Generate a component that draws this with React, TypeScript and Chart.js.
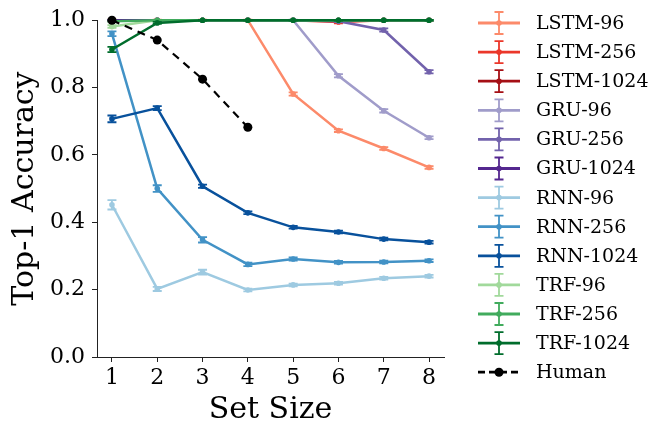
import React, { useEffect, useRef } from "react";
import { Chart, registerables } from "chart.js";

Chart.register(...registerables);

const setSizes = [1, 2, 3, 4, 5, 6, 7, 8];
const humanSetSizes = [1, 2, 3, 4];

const seriesLabels = [
  "LSTM-96", "LSTM-256", "LSTM-1024",
  "GRU-96", "GRU-256", "GRU-1024",
  "RNN-96", "RNN-256", "RNN-1024",
  "TRF-96", "TRF-256", "TRF-1024",
];

const lstm96 = [1, 1, 1, 1, 0.781, 0.672, 0.619, 0.563];
const lstm256 = [1, 1, 1, 1, 1, 0.995, 1, 1];
const lstm1024 = [1, 1, 1, 1, 1, 1, 1, 1];
const gru96 = [1, 1, 1, 1, 1, 0.835, 0.731, 0.651];
const gru256 = [1, 1, 1, 1, 1, 0.997, 0.971, 0.847];
const gru1024 = [1, 1, 1, 1, 1, 1, 1, 1];
const rnn96 = [0.452, 0.202, 0.252, 0.199, 0.214, 0.219, 0.234, 0.240];
const rnn256 = [0.96, 0.5, 0.348, 0.275, 0.291, 0.281, 0.282, 0.286];
const rnn1024 = [0.707, 0.739, 0.507, 0.428, 0.385, 0.371, 0.35, 0.341];
const trf96 = [0.981, 1, 1, 1, 1, 1, 1, 1];
const trf256 = [0.997, 1, 1, 1, 1, 1, 1, 1];
const trf1024 = [0.913, 0.992, 1, 1, 1, 1, 1, 1];
const human = [1.0, 0.941, 0.825, 0.682];

const lstm96Err = [0.002, 0.002, 0.002, 0.002, 0.005, 0.004, 0.004, 0.004];
const lstm256Err = [0.001, 0.001, 0.001, 0.001, 0.001, 0.004, 0.001, 0.001];
const lstm1024Err = [0.001, 0.001, 0.001, 0.001, 0.001, 0.001, 0.001, 0.001];
const gru96Err = [0.001, 0.001, 0.001, 0.001, 0.002, 0.005, 0.005, 0.004];
const gru256Err = [0.001, 0.001, 0.001, 0.001, 0.001, 0.003, 0.005, 0.005];
const gru1024Err = [0.001, 0.001, 0.001, 0.001, 0.001, 0.001, 0.001, 0.001];
const rnn96Err = [0.014, 0.006, 0.007, 0.004, 0.004, 0.004, 0.004, 0.004];
const rnn256Err = [0.007, 0.01, 0.008, 0.005, 0.005, 0.004, 0.004, 0.004];
const rnn1024Err = [0.01, 0.006, 0.005, 0.004, 0.004, 0.004, 0.004, 0.004];
const trf96Err = [0.004, 0.001, 0.001, 0.001, 0.001, 0.001, 0.001, 0.001];
const trf256Err = [0.002, 0.001, 0.001, 0.001, 0.001, 0.001, 0.001, 0.001];
const trf1024Err = [0.008, 0.003, 0.001, 0.001, 0.001, 0.001, 0.001, 0.001];

const seriesValues = [
  lstm96, lstm256, lstm1024,
  gru96, gru256, gru1024,
  rnn96, rnn256, rnn1024,
  trf96, trf256, trf1024,
];
const seriesErrors = [
  lstm96Err, lstm256Err, lstm1024Err,
  gru96Err, gru256Err, gru1024Err,
  rnn96Err, rnn256Err, rnn1024Err,
  trf96Err, trf256Err, trf1024Err,
];
const seriesColors = [
  "#fc8a6a", "#eb372a", "#a50f15",
  "#a09cca", "#7262ac", "#54278f",
  "#9ecae1", "#4292c6", "#08519c",
  "#a1d99b", "#41ab5d", "#006d2c",
];

const yTicks = [0, 0.2, 0.4, 0.6, 0.8, 1.0];
const FONT = "'DejaVu Serif', serif";

const errorBarPlugin = {
  id: "errorBars",
  afterDatasetDraw(chart: any, args: any) {
    const ds = chart.data.datasets[args.index];
    if (!ds.errors) return;
    const ctx = chart.ctx;
    const yScale = chart.scales.y;
    ctx.save();
    ctx.strokeStyle = ds.borderColor;
    ctx.lineWidth = 1.8;
    args.meta.data.forEach((pt: any, i: number) => {
      const v = ds.data[i].y;
      const e = ds.errors[i];
      const y1 = yScale.getPixelForValue(v - e);
      const y2 = yScale.getPixelForValue(v + e);
      const x = pt.x;
      ctx.beginPath();
      ctx.moveTo(x, y1);
      ctx.lineTo(x, y2);
      ctx.moveTo(x - 4.5, y1);
      ctx.lineTo(x + 4.5, y1);
      ctx.moveTo(x - 4.5, y2);
      ctx.lineTo(x + 4.5, y2);
      ctx.stroke();
    });
    ctx.restore();
  },
};

const legendPlugin = {
  id: "customLegend",
  afterDraw(chart: any) {
    const ctx = chart.ctx;
    const x0 = 478;
    const x1 = 520;
    const xm = (x0 + x1) / 2;
    ctx.save();
    chart.data.datasets.forEach((ds: any, i: number) => {
      const y = 23 + i * 29.1;
      ctx.strokeStyle = ds.borderColor;
      ctx.fillStyle = ds.borderColor;
      ctx.lineWidth = 2.8;
      if (ds.borderDash && ds.borderDash.length) ctx.setLineDash([7, 4]);
      else ctx.setLineDash([]);
      ctx.beginPath();
      ctx.moveTo(x0, y);
      ctx.lineTo(x1, y);
      ctx.stroke();
      ctx.setLineDash([]);
      if (ds.errors) {
        ctx.lineWidth = 1.8;
        ctx.beginPath();
        ctx.moveTo(xm, y - 11);
        ctx.lineTo(xm, y + 11);
        ctx.moveTo(xm - 4.5, y - 11);
        ctx.lineTo(xm + 4.5, y - 11);
        ctx.moveTo(xm - 4.5, y + 11);
        ctx.lineTo(xm + 4.5, y + 11);
        ctx.stroke();
      }
      ctx.beginPath();
      ctx.arc(xm, y, ds.pointRadius, 0, Math.PI * 2);
      ctx.fill();
      ctx.fillStyle = "#000";
      ctx.font = `19px ${FONT}`;
      ctx.textAlign = "left";
      ctx.textBaseline = "middle";
      ctx.fillText(ds.label, 536, y + 1);
    });
    ctx.restore();
  },
};

export default function App() {
  const canvasRef = useRef<HTMLCanvasElement | null>(null);

  useEffect(() => {
    if (!canvasRef.current) return;
    const datasets: any[] = seriesLabels.map((label, i) => ({
      label,
      data: setSizes.map((x, j) => ({ x, y: seriesValues[i][j] })),
      errors: seriesErrors[i],
      borderColor: seriesColors[i],
      backgroundColor: seriesColors[i],
      borderWidth: 2.5,
      pointRadius: 2.8,
      pointBorderWidth: 0,
      tension: 0,
      clip: false,
      order: -i,
    }));
    datasets.push({
      label: "Human",
      data: humanSetSizes.map((x, j) => ({ x, y: human[j] })),
      borderColor: "#000000",
      backgroundColor: "#000000",
      borderWidth: 2.2,
      borderDash: [8, 6],
      pointRadius: 4.5,
      pointBorderWidth: 0,
      tension: 0,
      clip: false,
      order: -20,
    });

    const chart = new Chart(canvasRef.current, {
      type: "line",
      data: { datasets },
      options: {
        animation: false,
        responsive: false,
        maintainAspectRatio: false,
        layout: { padding: { top: 16, right: 210, left: 0, bottom: 0 } },
        plugins: { legend: { display: false }, tooltip: { enabled: false } },
        scales: {
          x: {
            type: "linear",
            min: 0.67,
            max: 8.33,
            afterFit: (s: any) => { s.height = 73; },
            ticks: {
              stepSize: 1,
              includeBounds: false,
              padding: 3,
              color: "#000",
              font: { family: FONT, size: 22 },
              callback: (v: any) => String(v),
            },
            grid: { display: true, drawOnChartArea: false, drawTicks: true, tickLength: 5, tickColor: "#222", tickWidth: 1 },
            border: { display: true, color: "#222", width: 1 },
            title: {
              display: true,
              text: "Set Size",
              color: "#000",
              font: { family: FONT, size: 30, lineHeight: 1 },
              padding: { top: 0, bottom: 5 },
            },
          },
          y: {
            type: "linear",
            min: 0,
            max: 1.0,
            afterFit: (s: any) => { s.width = 97; },
            afterBuildTicks: (s: any) => { s.ticks = yTicks.map((v) => ({ value: v })); },
            ticks: {
              padding: 7,
              color: "#000",
              font: { family: FONT, size: 22 },
              callback: (v: any) => Number(v).toFixed(1),
            },
            grid: { display: true, drawOnChartArea: false, drawTicks: true, tickLength: 5, tickColor: "#222", tickWidth: 1 },
            border: { display: true, color: "#222", width: 1 },
            title: {
              display: true,
              text: "Top-1 Accuracy",
              color: "#000",
              font: { family: FONT, size: 30, lineHeight: 1 },
              padding: { top: 10, bottom: 0 },
            },
          },
        },
      },
      plugins: [errorBarPlugin, legendPlugin],
    });
    return () => chart.destroy();
  }, []);

  return (
    <div style={{ position: "fixed", left: 0, top: 0, width: 654, height: 430, background: "#fff" }}>
      <canvas ref={canvasRef} width={654} height={430} style={{ width: 654, height: 430 }} />
    </div>
  );
}
